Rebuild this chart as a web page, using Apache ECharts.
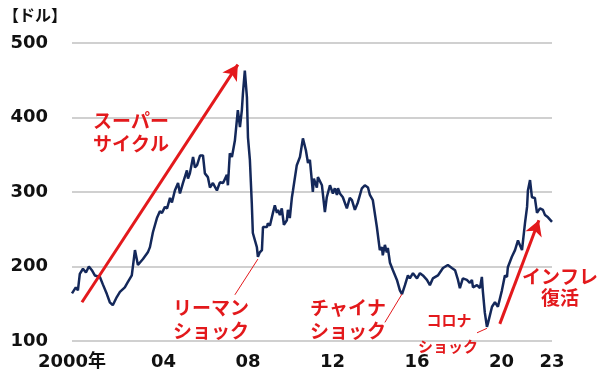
<!DOCTYPE html>
<html><head><meta charset="utf-8">
<script src="https://cdn.jsdelivr.net/npm/echarts@6/dist/echarts.min.js"></script>
<style>html,body{margin:0;padding:0;background:#fff}#c{width:600px;height:374px}</style>
</head><body><div id="c"></div>
<script>
// time (decimal year as drawn) and price (USD)
var times = [1999.67,1999.85,1999.95,2000.04,2000.19,2000.33,2000.47,2000.61,2000.75,2000.99,2001.13,2001.32,2001.46,2001.60,2001.79,2001.94,2002.17,2002.31,2002.50,2002.65,2002.79,2003.03,2003.26,2003.36,2003.50,2003.69,2003.83,2003.93,2004.07,2004.17,2004.31,2004.40,2004.54,2004.69,2004.78,2004.92,2005.11,2005.16,2005.25,2005.40,2005.49,2005.59,2005.73,2005.87,2005.96,2006.10,2006.20,2006.34,2006.53,2006.67,2006.82,2007.00,2007.05,2007.14,2007.24,2007.38,2007.52,2007.62,2007.71,2007.76,2007.85,2007.95,2008.00,2008.09,2008.18,2008.23,2008.42,2008.47,2008.56,2008.66,2008.71,2008.90,2008.94,2009.04,2009.18,2009.27,2009.37,2009.42,2009.51,2009.60,2009.65,2009.70,2009.84,2009.89,2009.98,2010.08,2010.13,2010.22,2010.31,2010.46,2010.60,2010.74,2010.84,2010.93,2011.02,2011.07,2011.12,2011.26,2011.31,2011.50,2011.64,2011.73,2011.88,2012.02,2012.11,2012.21,2012.26,2012.35,2012.49,2012.68,2012.82,2012.92,2013.06,2013.20,2013.39,2013.53,2013.68,2013.77,2013.91,2014.10,2014.24,2014.34,2014.38,2014.48,2014.57,2014.62,2014.72,2014.86,2015.05,2015.19,2015.29,2015.43,2015.57,2015.66,2015.81,2016.00,2016.14,2016.28,2016.47,2016.61,2016.75,2016.99,2017.23,2017.46,2017.65,2017.80,2017.94,2018.03,2018.17,2018.36,2018.50,2018.60,2018.65,2018.84,2018.98,2019.07,2019.12,2019.21,2019.31,2019.36,2019.55,2019.69,2019.83,2020.02,2020.16,2020.26,2020.30,2020.49,2020.64,2020.78,2020.87,2020.97,2021.11,2021.21,2021.25,2021.35,2021.44,2021.58,2021.68,2021.82,2021.96,2022.06,2022.20,2022.39];
var prices = [164,172,168,190,197,192,200,195,188,186,176,163,152,148,159,166,172,179,188,222,202,210,219,226,246,265,274,272,280,278,292,286,302,312,298,312,329,318,325,347,333,336,349,349,325,320,306,312,302,313,312,323,309,352,347,369,410,387,410,432,463,427,373,343,285,245,226,213,219,222,253,253,258,255,272,282,272,276,269,278,276,256,262,276,265,293,302,302,336,347,372,356,339,343,316,300,318,306,320,309,273,293,309,298,305,296,305,298,293,278,292,289,276,286,305,309,306,296,289,253,222,226,215,229,219,225,205,195,182,168,163,175,188,184,191,184,191,188,182,175,184,188,198,202,198,195,182,171,184,182,178,182,172,175,171,186,166,138,119,124,146,152,146,168,188,186,199,213,222,235,233,222,258,280,302,316,293,292,272,278,276,269,266,260];

var tickValues = [1999.67, 2004, 2008, 2012, 2016, 2020, 2022.39];
var tickLabels = ['2000年', '04', '08', '12', '16', '20', '23'];
var yTicks = [100, 200, 300, 400, 500];

// annotation arrows / leader lines in data space: [t1, v1, t2, v2]
var arrows = [[2000.14, 152, 2007.52, 471], [2019.92, 123, 2021.77, 262]];
var leaders = [[2008.47, 210, 2007.38, 162], [2015.29, 163, 2014.48, 125], [2019.31, 117, 2018.84, 111]];

var RED = '#e3191c';
var chart = echarts.init(document.getElementById('c'), null, {renderer: 'canvas'});
var data = times.map(function (t, i) { return [t, prices[i]]; });
var labelMap = {};
tickValues.forEach(function (v, i) { labelMap[v] = tickLabels[i]; });

var ml = [];
arrows.forEach(function (a) {
  ml.push([{coord: [a[0], a[1]], symbol: 'none', lineStyle: {width: 3, color: RED, type: 'solid'}},
           {coord: [a[2], a[3]], symbol: 'arrow', symbolSize: [13, 15]}]);
});
leaders.forEach(function (a) {
  ml.push([{coord: [a[0], a[1]], symbol: 'none', lineStyle: {width: 1, color: RED, type: 'solid'}},
           {coord: [a[2], a[3]], symbol: 'none'}]);
});

var FONT = '"Noto Sans CJK JP", "Noto Sans", sans-serif';
function txt(x, y, s, size) {
  return {type: 'text', x: x, y: y, z: 100,
    style: {text: s, fill: RED, font: 'bold ' + size + 'px ' + FONT, align: 'center', verticalAlign: 'middle'}};
}

chart.setOption({
  animation: false,
  title: {text: '【ドル】', left: -2, top: 2,
    textStyle: {fontSize: 16, fontWeight: 'bold', color: '#111', fontFamily: FONT}},
  grid: {left: 72, right: 48, top: 43, bottom: 33},
  xAxis: {
    type: 'value', min: tickValues[0], max: tickValues[tickValues.length - 1],
    axisLine: {show: false}, axisTick: {show: false}, splitLine: {show: false},
    axisLabel: {
      customValues: tickValues, margin: 12, showMinLabel: true, showMaxLabel: true,
      formatter: function (v) { return labelMap[v] !== undefined ? labelMap[v] : ''; },
      fontSize: 18, fontWeight: 'bold', color: '#111', fontFamily: 'DejaVu Sans, "Noto Sans CJK JP", sans-serif'
    }
  },
  yAxis: {
    type: 'value', min: yTicks[0], max: yTicks[yTicks.length - 1], interval: 100,
    axisLine: {show: false}, axisTick: {show: false},
    splitLine: {lineStyle: {color: '#c0c0c0', width: 1.5}},
    axisLabel: {margin: 24, fontSize: 18, fontWeight: 'bold', color: '#111', fontFamily: 'DejaVu Sans, sans-serif'}
  },
  series: [{
    type: 'line', data: data, showSymbol: false, symbol: 'none',
    lineStyle: {color: '#14285a', width: 2.5},
    markLine: {silent: true, label: {show: false}, animation: false, data: ml}
  }],
  graphic: [
    txt(131, 121, 'スーパー', 19), txt(131, 144, 'サイクル', 19),
    txt(211, 308, 'リーマン', 19), txt(211, 331, 'ショック', 19),
    txt(348, 308, 'チャイナ', 19), txt(348, 331, 'ショック', 19),
    txt(449, 320, 'コロナ', 15), txt(448, 346, 'ショック', 15),
    txt(560, 277, 'インフレ', 19), txt(560, 298, '復活', 19)
  ]
});
</script></body></html>
